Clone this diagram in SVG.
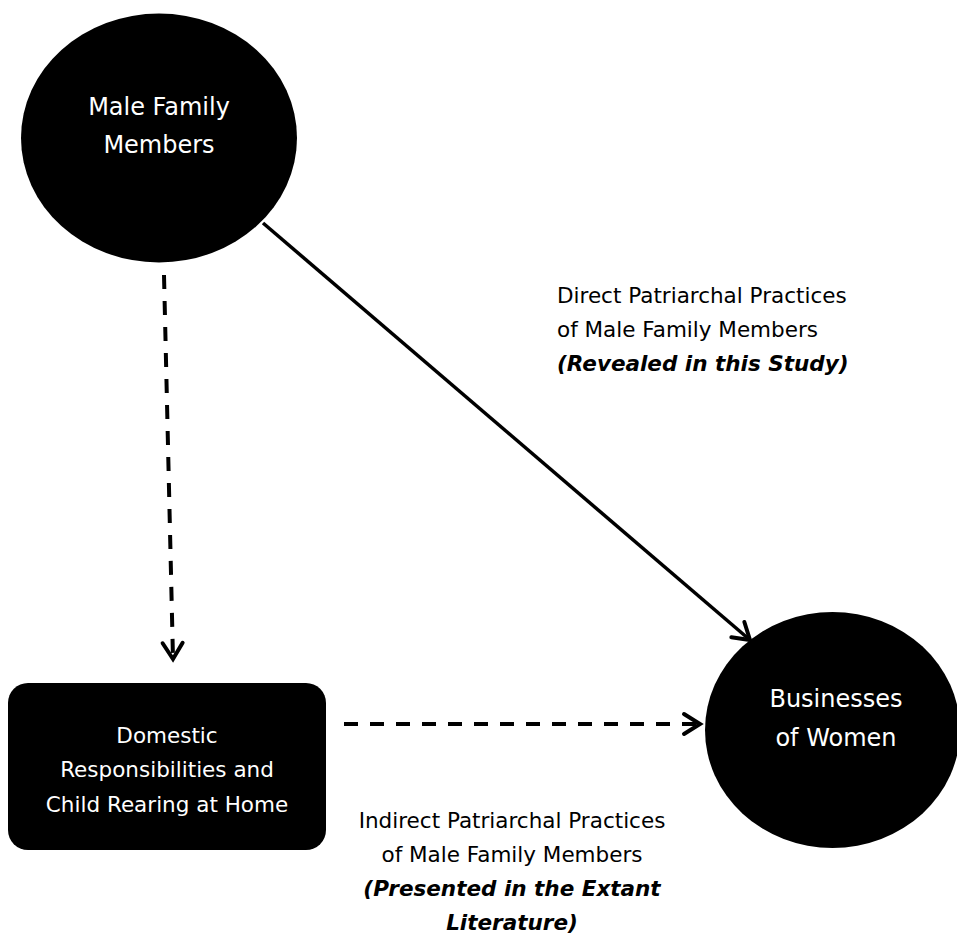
<svg xmlns="http://www.w3.org/2000/svg" width="957" height="936" viewBox="0 0 957 936">
<style>
.node{fill:#000}
.nt{fill:#fff;font-family:"DejaVu Sans","Verdana",sans-serif;text-anchor:middle}
.lb{fill:#000;font-family:"DejaVu Sans","Verdana",sans-serif;font-size:21.5px}
.bi{font-weight:bold;font-style:italic}
.conn{fill:none;stroke:#000;stroke-width:3.5}
.dash{stroke-width:4;stroke-dasharray:14 12}
</style>
<defs>
<marker id="ah" markerUnits="userSpaceOnUse" markerWidth="30" markerHeight="30" viewBox="-20 -15 25 30" refX="0" refY="0" orient="auto">
<path d="M-16,-10 L0,0 L-16,10" fill="none" stroke="#000" stroke-width="4" stroke-linecap="round" stroke-linejoin="miter"/>
</marker>
</defs>
<rect width="957" height="936" fill="#fff"/>
<g id="connectors">
<line class="conn" x1="263" y1="223" x2="750" y2="640" marker-end="url(#ah)"/>
<line class="conn dash" x1="164" y1="275" x2="173" y2="659" marker-end="url(#ah)"/>
<line class="conn dash" x1="344" y1="724" x2="700" y2="724" marker-end="url(#ah)"/>
</g>
<g id="male-family-members">
<ellipse class="node" cx="159" cy="138" rx="138" ry="124.5"/>
<text class="nt" font-size="24" x="159" y="115">Male Family</text>
<text class="nt" font-size="24" x="159" y="153">Members</text>
</g>
<g id="domestic-responsibilities">
<rect class="node" x="8" y="683" width="318" height="167" rx="20" ry="20"/>
<text class="nt" font-size="21.5" x="167" y="743">Domestic</text>
<text class="nt" font-size="21.5" x="167" y="777">Responsibilities and</text>
<text class="nt" font-size="21.5" x="167" y="812">Child Rearing at Home</text>
</g>
<g id="businesses-of-women">
<ellipse class="node" cx="832.5" cy="730" rx="127.5" ry="118"/>
<text class="nt" font-size="24" x="836" y="707">Businesses</text>
<text class="nt" font-size="24" x="836" y="746">of Women</text>
</g>
<g id="label-direct">
<text class="lb" x="557" y="303">Direct Patriarchal Practices</text>
<text class="lb" x="557" y="337">of Male Family Members</text>
<text class="lb bi" x="557" y="371">(Revealed in this Study)</text>
</g>
<g id="label-indirect" text-anchor="middle">
<text class="lb" x="512" y="828">Indirect Patriarchal Practices</text>
<text class="lb" x="512" y="862">of Male Family Members</text>
<text class="lb bi" x="512" y="896">(Presented in the Extant</text>
<text class="lb bi" x="512" y="930">Literature)</text>
</g>
</svg>
